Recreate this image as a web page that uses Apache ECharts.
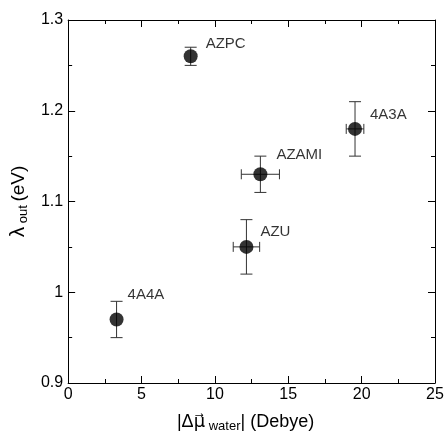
<!DOCTYPE html>
<html><head><meta charset="utf-8">
<script src="https://cdn.jsdelivr.net/npm/echarts@6/dist/echarts.min.js"></script>
<style>html,body{margin:0;padding:0;background:#fff}#c{width:447px;height:438px}</style>
</head><body><div id="c"></div>
<script>
const names = ['4A4A','AZPC','AZU','AZAMI','4A3A'];
const xVals = [3.3, 8.35, 12.15, 13.1, 19.55];
const yVals = [0.97, 1.26, 1.05, 1.13, 1.18];
const xErr = [0, 0, 0.9, 1.3, 0.6];
const yErr = [0.02, 0.01, 0.03, 0.02, 0.03];
const xTicks = [0,5,10,15,20,25];
const yTicks = [0.9,1.0,1.1,1.2,1.3];

const labelOffsets = [[-1,-25],[3,-12],[2,-15],[4,-19],[3,-14]];
const font = 'Liberation Sans';

const chart = echarts.init(document.getElementById('c'));
const axisCommon = {
  axisLine:{show:true,onZero:false,lineStyle:{color:'#000',width:1}},
  axisTick:{show:true,inside:true,length:7,lineStyle:{color:'#000'}},
  minorTick:{show:true,splitNumber:2,length:4,lineStyle:{color:'#000'}},
  splitLine:{show:false}
};
chart.setOption({
  animation:false,
  backgroundColor:'#fff',
  textStyle:{fontFamily:font},
  grid:{left:67,right:12,top:20,bottom:46},
  xAxis:[
    Object.assign({type:'value',min:0,max:25,interval:5,position:'bottom',
      axisLabel:{color:'#000',fontSize:16,fontFamily:font,margin:4,formatter:v=>String(v)},
      name:'{a||Δ}{v|μ\u20D7}{s| water}{a|| (Debye)}',nameLocation:'middle',nameGap:28,
      nameTextStyle:{padding:[0,12,0,0],rich:{
        a:{fontSize:18,fontFamily:font,color:'#000'},
        v:{fontSize:18,fontFamily:'DejaVu Sans',color:'#000'},
        s:{fontSize:13,fontFamily:font,color:'#000',padding:[9,0,0,0]}
      }}}, axisCommon),
    Object.assign({type:'value',min:0,max:25,interval:5,position:'top',axisLabel:{show:false}}, axisCommon)
  ],
  yAxis:[
    Object.assign({type:'value',min:0.9,max:1.3,interval:0.1,position:'left',
      axisLabel:{color:'#000',fontSize:16,fontFamily:font,margin:5,
        formatter:v=>{const r=Math.round(v*10)/10;return r===1?'1':String(r);}},
      name:'{l|λ}{s| out }{a|(eV)}',nameLocation:'middle',nameGap:37,nameRotate:90,
      nameTextStyle:{rich:{
        l:{fontSize:21,fontFamily:font,color:'#000'},
        a:{fontSize:19,fontFamily:font,color:'#000'},
        s:{fontSize:13,fontFamily:font,color:'#000',padding:[10,0,0,0]}
      }}}, axisCommon),
    Object.assign({type:'value',min:0.9,max:1.3,interval:0.1,position:'right',axisLabel:{show:false}}, axisCommon)
  ],
  series:[
    {
      type:'custom',
      data:names.map((n,i)=>[xVals[i],yVals[i],xErr[i],yErr[i]]),
      renderItem:function(params,api){
        const x=api.value(0),y=api.value(1),ex=api.value(2),ey=api.value(3);
        const c=api.coord([x,y]);
        const children=[];
        const st={stroke:'#333',lineWidth:1};
        const cw=6;
        if(ey>0){
          const t=api.coord([x,y+ey]),b=api.coord([x,y-ey]);
          children.push({type:'line',shape:{x1:c[0],y1:t[1],x2:c[0],y2:b[1]},style:st});
          children.push({type:'line',shape:{x1:c[0]-cw,y1:t[1],x2:c[0]+cw,y2:t[1]},style:st});
          children.push({type:'line',shape:{x1:c[0]-cw,y1:b[1],x2:c[0]+cw,y2:b[1]},style:st});
        }
        if(ex>0){
          const l=api.coord([x-ex,y]),r=api.coord([x+ex,y]);
          children.push({type:'line',shape:{x1:l[0],y1:c[1],x2:r[0],y2:c[1]},style:st});
          children.push({type:'line',shape:{x1:l[0],y1:c[1]-5,x2:l[0],y2:c[1]+5},style:st});
          children.push({type:'line',shape:{x1:r[0],y1:c[1]-5,x2:r[0],y2:c[1]+5},style:st});
        }
        return {type:'group',children:children};
      },
      z:2
    },
    {
      type:'scatter',
      symbol:'circle',symbolSize:14,
      itemStyle:{color:'#000'},
      data:names.map((n,i)=>({name:n,value:[xVals[i],yVals[i]],
        label:{show:true,position:'right',offset:labelOffsets[i],formatter:n,
          color:'#000',fontSize:15,fontFamily:font}})),
      z:3
    }
  ]
});
</script></body></html>
